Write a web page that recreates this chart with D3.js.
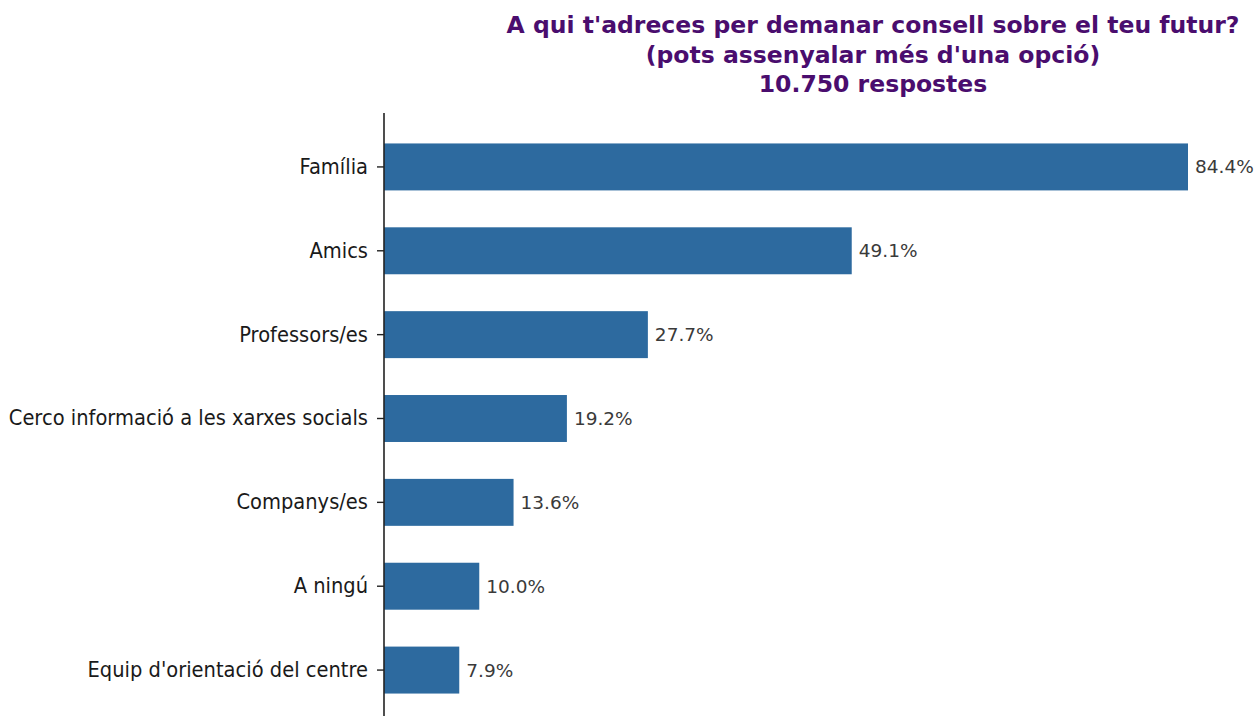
<!DOCTYPE html>
<html>
<head>
<meta charset="utf-8">
<script src="https://cdn.jsdelivr.net/npm/d3@7"></script>
<style>
  body { margin: 0; background: #fff; }
  svg { display: block; font-family: "DejaVu Sans", sans-serif; }
</style>
</head>
<body>
<svg id="chart" width="1258" height="716"></svg>
<script>
// data
const categories = [
  "Família",
  "Amics",
  "Professors/es",
  "Cerco informació a les xarxes socials",
  "Companys/es",
  "A ningú",
  "Equip d'orientació del centre"
];
const values = [84.4, 49.1, 27.7, 19.2, 13.6, 10.0, 7.9];
const titleLines = [
  "A qui t'adreces per demanar consell sobre el teu futur?",
  "(pots assenyalar més d'una opció)",
  "10.750 respostes"
];

const svg = d3.select('svg#chart');
const WIDTH = +svg.attr('width');
const HEIGHT = +svg.attr('height');
const x0 = 384;
const BAR_COLOR = '#2d6a9f';

const data = categories.map((c, i) => ({key: c, value: values[i]}));

const xScale = d3.scaleLinear()
  .domain([0, 84.4])
  .range([x0, 1188]);

const yScale = d3.scaleBand()
  .domain(categories)
  .range([125, 712])
  .paddingInner(0.44)
  .paddingOuter(0.22);

// title
svg.append('g')
  .selectAll('text')
  .data(titleLines)
  .enter().append('text')
  .attr('x', 873)
  .attr('y', (d, i) => 33 + i * 29.5)
  .attr('text-anchor', 'middle')
  .attr('font-weight', 'bold')
  .attr('font-size', 23.5)
  .attr('fill', '#4a0d6e')
  .text(d => d);

// bars
svg.append('g')
  .selectAll('rect')
  .data(data)
  .enter().append('rect')
  .attr('x', xScale(0))
  .attr('y', d => yScale(d.key))
  .attr('width', d => xScale(d.value) - xScale(0))
  .attr('height', yScale.bandwidth())
  .attr('fill', BAR_COLOR);

// value labels
svg.append('g')
  .selectAll('text')
  .data(data)
  .enter().append('text')
  .attr('x', d => xScale(d.value) + 7)
  .attr('y', d => yScale(d.key) + yScale.bandwidth() / 2)
  .attr('dy', '0.35em')
  .attr('font-size', 18.5)
  .attr('fill', '#3a3a3a')
  .text(d => d.value.toFixed(1) + '%');

// y axis
const yAxis = d3.axisLeft(yScale).tickSize(7).tickPadding(9);
const yAxisG = svg.append('g')
  .attr('transform', `translate(${x0},0)`)
  .call(yAxis);
yAxisG.select('.domain').remove();
yAxisG.append('line')
  .attr('x1', 0).attr('x2', 0)
  .attr('y1', 113).attr('y2', HEIGHT)
  .attr('stroke', '#222')
  .attr('stroke-width', 1.6);
yAxisG.selectAll('.tick line').attr('stroke', '#222').attr('stroke-width', 1.4);
yAxisG.selectAll('.tick text')
  .attr('font-size', 19.5)
  .attr('font-family', '"DejaVu Sans", sans-serif')
  .attr('fill', '#1a1a1a')
  .attr('transform', 'scale(1,1.1)');
</script>
</body>
</html>
